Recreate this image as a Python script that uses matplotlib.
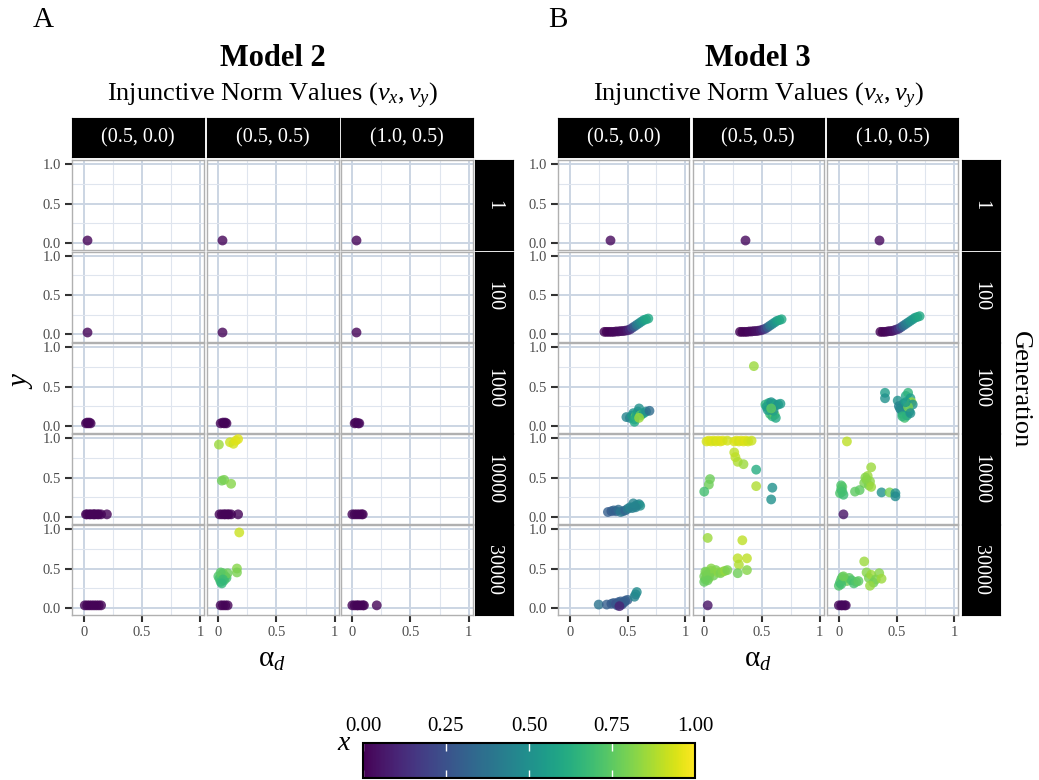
import numpy as np
import matplotlib
matplotlib.use("Agg")
import matplotlib.pyplot as plt

# ---- datos ----
generaciones = ["1", "100", "1000", "10000", "30000"]
normas = ["(0.5, 0.0)", "(0.5, 0.5)", "(1.0, 0.5)"]

# Model 2: una sublista por panel, orden generacion x norma
m2_alpha = [
    [0.03], [0.03], [0.03],
    [0.03], [0.03], [0.03],
    [0.02, 0.03, 0.04, 0.05, 0.06], [0.02, 0.04, 0.05, 0.06, 0.07], [0.02, 0.03, 0.05, 0.06],
    [0.02, 0.03, 0.05, 0.06, 0.08, 0.09, 0.10, 0.12, 0.13, 0.15, 0.20],
    [0.01, 0.03, 0.05, 0.06, 0.08, 0.09, 0.11, 0.17, 0.005, 0.10, 0.13, 0.15, 0.17, 0.03, 0.05, 0.11],
    [0.00, 0.02, 0.04, 0.06, 0.08, 0.09],
    [0.01, 0.03, 0.05, 0.07, 0.09, 0.11, 0.13, 0.15],
    [0.02, 0.04, 0.06, 0.08, 0.18, 0.16, 0.16, 0.00, 0.01, 0.02, 0.03, 0.04, 0.05, 0.06, 0.07, 0.08, 0.02, 0.04, 0.03],
    [0.00, 0.02, 0.04, 0.05, 0.07, 0.09, 0.10, 0.21],
]
m2_y = [
    [0.03], [0.03], [0.03],
    [0.03], [0.03], [0.03],
    [0.03, 0.04, 0.03, 0.04, 0.03], [0.03, 0.04, 0.03, 0.04, 0.03], [0.03, 0.04, 0.03, 0.03],
    [0.03] * 11,
    [0.03, 0.03, 0.03, 0.03, 0.03, 0.03, 0.03, 0.03, 0.92, 0.95, 0.93, 0.97, 0.99, 0.46, 0.47, 0.42],
    [0.03] * 6,
    [0.03] * 8,
    [0.03, 0.03, 0.03, 0.03, 0.96, 0.50, 0.45, 0.40, 0.37, 0.33, 0.42, 0.44, 0.35, 0.40, 0.38, 0.44, 0.45, 0.36, 0.31],
    [0.03] * 8,
]
m2_x = [
    [0.01], [0.01], [0.01],
    [0.01], [0.01], [0.01],
    [0.01, 0.01, 0.00, 0.02, 0.01], [0.01, 0.01, 0.00, 0.02, 0.01], [0.01, 0.01, 0.00, 0.02],
    [0.01] * 11,
    [0.01, 0.01, 0.01, 0.01, 0.01, 0.01, 0.01, 0.01, 0.85, 0.92, 0.93, 0.95, 0.95, 0.78, 0.80, 0.82],
    [0.01] * 6,
    [0.01] * 8,
    [0.01, 0.01, 0.01, 0.01, 0.92, 0.82, 0.80, 0.72, 0.70, 0.68, 0.75, 0.76, 0.70, 0.72, 0.70, 0.78, 0.74, 0.68, 0.66],
    [0.01] * 8,
]

# Model 3
m3_alpha = [
    [0.35], [0.35], [0.35],
    [0.30, 0.32, 0.34, 0.36, 0.38, 0.40, 0.42, 0.44, 0.46, 0.48, 0.50, 0.52, 0.54, 0.56, 0.58, 0.60, 0.62, 0.64, 0.66, 0.68],
    [0.31, 0.33, 0.35, 0.37, 0.39, 0.41, 0.43, 0.45, 0.47, 0.49, 0.51, 0.53, 0.55, 0.57, 0.59, 0.61, 0.63, 0.65, 0.67],
    [0.36, 0.38, 0.40, 0.42, 0.44, 0.46, 0.48, 0.50, 0.52, 0.54, 0.56, 0.58, 0.60, 0.62, 0.64, 0.66, 0.68, 0.70],
    [0.49, 0.52, 0.54, 0.55, 0.56, 0.57, 0.58, 0.59, 0.60, 0.61, 0.62, 0.64, 0.66, 0.69, 0.56, 0.60],
    [0.43, 0.53, 0.54, 0.56, 0.58, 0.60, 0.62, 0.64, 0.66, 0.57, 0.59, 0.61, 0.55, 0.60, 0.62, 0.58],
    [0.40, 0.40, 0.51, 0.52, 0.54, 0.55, 0.56, 0.58, 0.60, 0.62, 0.63, 0.64, 0.57, 0.59, 0.61, 0.53, 0.55, 0.60, 0.62, 0.58],
    [0.33, 0.36, 0.38, 0.40, 0.42, 0.44, 0.46, 0.48, 0.50, 0.52, 0.54, 0.56, 0.58, 0.60, 0.61, 0.57, 0.55],
    [0.02, 0.04, 0.06, 0.08, 0.10, 0.12, 0.14, 0.16, 0.20, 0.26, 0.28, 0.30, 0.32, 0.34, 0.36, 0.38, 0.41,
     0.26, 0.27, 0.29, 0.34, 0.45, 0.45, 0.59, 0.58, 0.05, 0.04, 0.00],
    [0.07, 0.28, 0.22, 0.24, 0.25, 0.26, 0.27, 0.28, 0.23, 0.14, 0.18, 0.01, 0.02, 0.03, 0.04, 0.02, 0.03,
     0.37, 0.44, 0.49, 0.49, 0.04],
    [0.25, 0.32, 0.36, 0.38, 0.40, 0.42, 0.44, 0.46, 0.48, 0.50, 0.41, 0.45, 0.47, 0.43, 0.56, 0.57, 0.58],
    [0.03, 0.33, 0.00, 0.01, 0.02, 0.03, 0.04, 0.05, 0.06, 0.08, 0.10, 0.12, 0.14, 0.16, 0.18, 0.20, 0.00, 0.02,
     0.04, 0.06, 0.01, 0.03, 0.29, 0.37, 0.30, 0.37, 0.29, 0.03],
    [0.22, 0.00, 0.01, 0.02, 0.03, 0.05, 0.07, 0.09, 0.11, 0.13, 0.15, 0.17, 0.02, 0.04,
     0.24, 0.26, 0.28, 0.30, 0.32, 0.35, 0.37, 0.27, 0.00, 0.02, 0.03, 0.05, 0.06],
]
m3_y = [
    [0.03], [0.03], [0.03],
    [0.03, 0.03, 0.03, 0.03, 0.03, 0.035, 0.035, 0.04, 0.04, 0.045, 0.05, 0.06, 0.08, 0.10, 0.12, 0.14, 0.16, 0.18, 0.19, 0.20],
    [0.03, 0.03, 0.03, 0.03, 0.035, 0.035, 0.04, 0.04, 0.045, 0.05, 0.06, 0.07, 0.09, 0.11, 0.13, 0.15, 0.17, 0.18, 0.19],
    [0.03, 0.03, 0.03, 0.035, 0.04, 0.04, 0.05, 0.06, 0.07, 0.09, 0.11, 0.13, 0.15, 0.17, 0.19, 0.21, 0.22, 0.23],
    [0.11, 0.10, 0.13, 0.16, 0.05, 0.12, 0.15, 0.18, 0.22, 0.13, 0.14, 0.16, 0.18, 0.19, 0.08, 0.10],
    [0.76, 0.27, 0.24, 0.29, 0.30, 0.28, 0.26, 0.27, 0.28, 0.15, 0.12, 0.14, 0.20, 0.19, 0.10, 0.22],
    [0.42, 0.35, 0.32, 0.25, 0.20, 0.15, 0.28, 0.38, 0.42, 0.35, 0.30, 0.27, 0.10, 0.13, 0.18, 0.22, 0.12, 0.24, 0.16, 0.30],
    [0.06, 0.07, 0.08, 0.07, 0.09, 0.06, 0.07, 0.08, 0.10, 0.12, 0.11, 0.13, 0.15, 0.16, 0.14, 0.12, 0.17],
    [0.96, 0.97, 0.96, 0.97, 0.96, 0.97, 0.96, 0.97, 0.97, 0.96, 0.97, 0.96, 0.97, 0.96, 0.97, 0.96, 0.97,
     0.82, 0.76, 0.70, 0.67, 0.60, 0.39, 0.37, 0.22, 0.48, 0.41, 0.32],
    [0.96, 0.63, 0.43, 0.47, 0.52, 0.40, 0.45, 0.38, 0.50, 0.32, 0.34, 0.30, 0.35, 0.38, 0.28, 0.40, 0.32,
     0.31, 0.31, 0.30, 0.26, 0.03],
    [0.04, 0.04, 0.05, 0.06, 0.05, 0.07, 0.08, 0.06, 0.09, 0.10, 0.03, 0.04, 0.07, 0.02, 0.14, 0.17, 0.20],
    [0.89, 0.86, 0.40, 0.36, 0.45, 0.42, 0.38, 0.44, 0.47, 0.41, 0.48, 0.45, 0.44, 0.46, 0.47, 0.48, 0.33, 0.39,
     0.43, 0.50, 0.46, 0.35, 0.63, 0.63, 0.55, 0.48, 0.44, 0.03],
    [0.59, 0.28, 0.32, 0.36, 0.39, 0.37, 0.34, 0.38, 0.35, 0.31, 0.33, 0.34, 0.30, 0.40,
     0.45, 0.38, 0.42, 0.32, 0.36, 0.44, 0.37, 0.28, 0.03, 0.03, 0.03, 0.03, 0.03],
]
m3_x = [
    [0.02], [0.02], [0.02],
    [0.00, 0.00, 0.01, 0.01, 0.02, 0.02, 0.03, 0.03, 0.04, 0.05, 0.08, 0.12, 0.20, 0.30, 0.40, 0.45, 0.50, 0.55, 0.58, 0.60],
    [0.00, 0.00, 0.01, 0.01, 0.02, 0.02, 0.03, 0.04, 0.05, 0.08, 0.12, 0.20, 0.30, 0.40, 0.45, 0.50, 0.55, 0.58, 0.60],
    [0.00, 0.00, 0.01, 0.02, 0.03, 0.04, 0.06, 0.10, 0.15, 0.25, 0.35, 0.40, 0.45, 0.50, 0.52, 0.55, 0.58, 0.60],
    [0.45, 0.45, 0.55, 0.50, 0.60, 0.75, 0.60, 0.55, 0.50, 0.80, 0.70, 0.55, 0.50, 0.35, 0.60, 0.85],
    [0.85, 0.65, 0.55, 0.60, 0.50, 0.55, 0.60, 0.50, 0.55, 0.70, 0.65, 0.75, 0.55, 0.50, 0.60, 0.75],
    [0.55, 0.50, 0.50, 0.45, 0.55, 0.60, 0.50, 0.60, 0.65, 0.55, 0.85, 0.50, 0.70, 0.60, 0.55, 0.45, 0.65, 0.80, 0.50, 0.55],
    [0.30, 0.28, 0.32, 0.30, 0.35, 0.40, 0.38, 0.32, 0.40, 0.45, 0.42, 0.45, 0.47, 0.45, 0.50, 0.43, 0.45],
    [0.93, 0.95, 0.94, 0.95, 0.93, 0.95, 0.94, 0.95, 0.93, 0.94, 0.95, 0.93, 0.95, 0.94, 0.95, 0.93, 0.92,
     0.90, 0.90, 0.88, 0.85, 0.62, 0.88, 0.50, 0.50, 0.78, 0.78, 0.70],
    [0.90, 0.85, 0.80, 0.82, 0.85, 0.80, 0.83, 0.85, 0.82, 0.75, 0.75, 0.72, 0.70, 0.75, 0.68, 0.72, 0.70,
     0.50, 0.80, 0.50, 0.48, 0.05],
    [0.38, 0.30, 0.28, 0.30, 0.25, 0.28, 0.30, 0.26, 0.28, 0.30, 0.27, 0.25, 0.30, 0.10, 0.45, 0.45, 0.48],
    [0.85, 0.90, 0.78, 0.80, 0.82, 0.80, 0.85, 0.80, 0.82, 0.78, 0.80, 0.83, 0.80, 0.82, 0.84, 0.80, 0.76, 0.78,
     0.80, 0.82, 0.79, 0.77, 0.90, 0.90, 0.88, 0.82, 0.78, 0.05],
    [0.85, 0.72, 0.70, 0.75, 0.72, 0.75, 0.78, 0.75, 0.72, 0.70, 0.73, 0.75, 0.70, 0.78,
     0.82, 0.80, 0.85, 0.78, 0.80, 0.82, 0.85, 0.84, 0.02, 0.02, 0.02, 0.02, 0.02],
]

# ---- estilo ----
plt.rcParams['font.family'] = ['Liberation Serif', 'DejaVu Serif']
plt.rcParams['mathtext.fontset'] = 'custom'
plt.rcParams['mathtext.rm'] = 'Liberation Serif'
plt.rcParams['mathtext.it'] = 'Liberation Serif:italic'
plt.rcParams['mathtext.bf'] = 'Liberation Serif:bold'

W, H = 1039, 780
fig = plt.figure(figsize=(W / 100, H / 100), dpi=100)
cmap = plt.get_cmap('viridis')
norm = matplotlib.colors.Normalize(0, 1)

def caja(x0, y0, x1, y1):
    # pixeles (origen arriba-izquierda) -> coordenadas de figura
    return [x0 / W, 1 - y1 / H, (x1 - x0) / W, (y1 - y0) / H]

filas = [160, 251.5, 343, 434, 525]
alto = 90
gris = '#4d4d4d'
grid_col = '#cbd5e3'

def dibujar_modelo(cols, ancho, strip_x, alphas, ys, xs, titulo, letra, letra_x):
    centro = (cols[0] + cols[2] + ancho) / 2
    fig.text(letra_x / W, 1 - 20 / H, letra, fontsize=21, ha='left', va='center')
    fig.text(centro / W, 1 - 58 / H, titulo, fontsize=22, fontweight='bold', ha='center', va='center')
    fig.text(centro / W, 1 - 96 / H, r"Injunctive Norm Values $(v_x,v_y)$", fontsize=19,
             ha='center', va='center')
    for j, nm in enumerate(normas):
        s = fig.add_axes(caja(cols[j], 118, cols[j] + ancho, 157))
        s.set_facecolor('black')
        s.set_xticks([]); s.set_yticks([])
        s.text(0.5, 0.5, nm, color='white', fontsize=14.5, ha='center', va='center', transform=s.transAxes)
    for i, g in enumerate(generaciones):
        s = fig.add_axes(caja(strip_x, filas[i], strip_x + 38, filas[i] + alto))
        s.set_facecolor('black')
        s.set_xticks([]); s.set_yticks([])
        s.text(0.5, 0.5, g, color='white', fontsize=14.5, rotation=-90, ha='center', va='center',
               transform=s.transAxes)
        for j in range(3):
            k = i * 3 + j
            ax = fig.add_axes(caja(cols[j], filas[i], cols[j] + ancho, filas[i] + alto))
            ax.set_xlim(-0.1, 1.035)
            ax.set_ylim(-0.093, 1.055)
            ax.set_xticks([0, 0.5, 1])
            ax.set_xticks([0.25, 0.75], minor=True)
            ax.set_yticks([0, 0.5, 1])
            ax.set_yticks([0.25, 0.75], minor=True)
            ax.grid(True, which='major', color=grid_col, lw=1.4)
            ax.grid(True, which='minor', color='#dfe5ee', lw=0.8)
            ax.set_axisbelow(True)
            for sp in ax.spines.values():
                sp.set_color('#b0b0b0'); sp.set_linewidth(1.0)
            ax.tick_params(which='minor', length=0)
            ax.tick_params(which='major', length=5, width=1.5, color='#333333',
                           labelsize=10.5, labelcolor=gris, pad=3)
            if j == 0:
                ax.set_yticklabels(['0.0', '0.5', '1.0'])
            else:
                ax.tick_params(axis='y', length=0, labelleft=False)
            if i == 4:
                ax.set_xticklabels(['0', '0.5', '1'])
            else:
                ax.tick_params(axis='x', length=0, labelbottom=False)
            ax.scatter(alphas[k], ys[k], c=xs[k], cmap=cmap, norm=norm, s=50,
                       alpha=0.8, linewidths=0, zorder=3)
    fig.text(centro / W, 1 - 660 / H, r"$\mathrm{\alpha}_d$", fontsize=21, ha='center', va='center')

dibujar_modelo([72, 206.7, 340.7], 132, 475, m2_alpha, m2_y, m2_x, "Model 2", "A", 33)
dibujar_modelo([558.3, 692.7, 827.3], 131, 961.7, m3_alpha, m3_y, m3_x, "Model 3", "B", 548)

fig.text(22 / W, 1 - 380 / H, r"$y$", fontsize=21, ha='center', va='center', rotation=90)
fig.text(1020 / W, 1 - 390 / H, "Generation", fontsize=19, ha='center', va='center', rotation=-90)

# barra de color
cax = fig.add_axes(caja(363, 743, 695, 778))
cb = fig.colorbar(matplotlib.cm.ScalarMappable(norm=norm, cmap=cmap), cax=cax, orientation='horizontal')
cb.set_ticks([0, 0.25, 0.5, 0.75, 1.0])
cb.set_ticklabels(['0.00', '0.25', '0.50', '0.75', '1.00'])
cax.xaxis.set_ticks_position('both')
cax.tick_params(direction='in', color='white', length=6, width=1, labeltop=True, labelbottom=False,
                labelsize=15, labelcolor='black', pad=5)
cb.outline.set_edgecolor('black'); cb.outline.set_linewidth(1.5)
fig.text(344 / W, 1 - 744 / H, r"$x$", fontsize=20, ha='center', va='center')

fig.savefig("out.png", dpi=100, facecolor='white')
